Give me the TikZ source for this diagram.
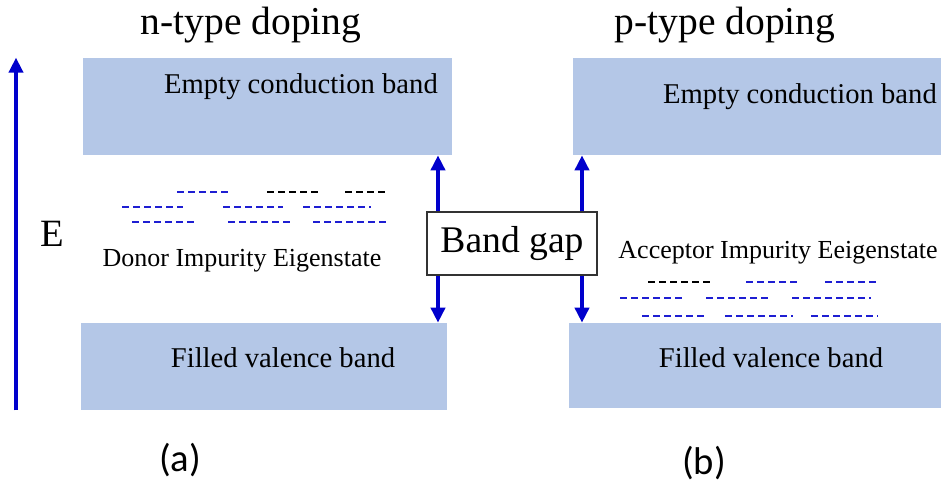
\documentclass[tikz,border=0pt]{standalone}
\usepackage{fontspec}
\setmainfont{Liberation Serif}
\newfontfamily\capfont{Carlito}
\usetikzlibrary{positioning, arrows.meta, fit}

\definecolor{bandfill}{RGB}{180,199,231}
\definecolor{arrowblue}{RGB}{0,0,204}
\definecolor{levelblue}{RGB}{30,30,210}

\begin{document}
\begin{tikzpicture}[
        x=0.02cm, y=-0.02cm,
        band_box/.style={fill=bandfill, draw=none, inner sep=0pt},
        band_text/.style={font=\fontsize{16.3}{18}\selectfont, anchor=center},
        title_text/.style={font=\fontsize{22.5}{24}\selectfont},
        gap_box/.style={draw=black!80, line width=0.6pt, fill=white, inner sep=0pt},
        gap_arrow/.style={-{Triangle[length=8.5pt, width=8pt]}, line width=2pt, draw=arrowblue},
        level/.style={dash pattern=on 4pt off 2.3pt, line width=1.1pt},
        sub_label/.style={font=\capfont\fontsize{22}{24}\selectfont}
    ]
        \useasboundingbox (0,0) rectangle (941,484);

        % Bands
        \node (cbA) [band_box, fit={(83,58) (452,155)}] {};
        \node (vbA) [band_box, fit={(81,323) (447,410)}] {};
        \node (cbB) [band_box, fit={(573,58) (941,155)}] {};
        \node (vbB) [band_box, fit={(569,323) (941,408)}] {};

        % Texts
        \node (titleA) [title_text] at (251,25) {n-type doping};
        \node (titleB) [title_text] at (725,25) {p-type doping};
        \node (cbAtext) [band_text] at (301,87) {Empty conduction band};
        \node (cbBtext) [band_text] at (800,97) {Empty conduction band};
        \node (vbAtext) [band_text] at (283,358) {Filled valence band};
        \node (vbBtext) [band_text] at (771,358) {Filled valence band};
        \node (donor) [font=\fontsize{14.8}{16}\selectfont] at (242,261) {Donor Impurity Eigenstate};
        \node (acceptor) [font=\fontsize{14.8}{16}\selectfont] at (778,253) {Acceptor Impurity Eeigenstate};
        \node (energy) [font=\fontsize{22}{24}\selectfont] at (52,234) {E};
        \node (labelA) [sub_label] at (180,460) {(a)};
        \node (labelB) [sub_label] at (704,463) {(b)};

        % Band gap
        \node (gap) [gap_box, fit={(427,212) (597,275)}] {};
        \node (gaptext) [font=\fontsize{21.4}{23}\selectfont] at (gap.center) {Band gap};
        \coordinate (arrA) at (438,0);
        \coordinate (arrB) at (582,0);
        \coordinate (axis) at (16,0);

        % Arrows
        \draw [gap_arrow] (gap.north -| arrA) -- (cbA.south -| arrA);
        \draw [gap_arrow] (gap.south -| arrA) -- (vbA.north -| arrA);
        \draw [gap_arrow] (gap.north -| arrB) -- (cbB.south -| arrB);
        \draw [gap_arrow] (gap.south -| arrB) -- (vbB.north -| arrB);
        \draw [gap_arrow] (vbA.south -| axis) -- (cbA.north -| axis);

        % Impurity levels
        \foreach \xa/\xb/\yy/\col in {177/232/192/levelblue, 267/322/192/black, 345/387/192/black,
                122/183/207/levelblue, 223/283/207/levelblue, 303/371/207/levelblue,
                132/195/222/levelblue, 228/293/222/levelblue, 313/387/222/levelblue,
                648/713/282/black, 746/801/282/levelblue, 825/880/282/levelblue,
                620/685/298/levelblue, 706/772/298/levelblue, 792/871/298/levelblue,
                642/707/316/levelblue, 725/793/316/levelblue, 811/878/316/levelblue}
            \draw [level, draw=\col] (\xa,\yy) -- (\xb,\yy);
    \end{tikzpicture}
\end{document}
